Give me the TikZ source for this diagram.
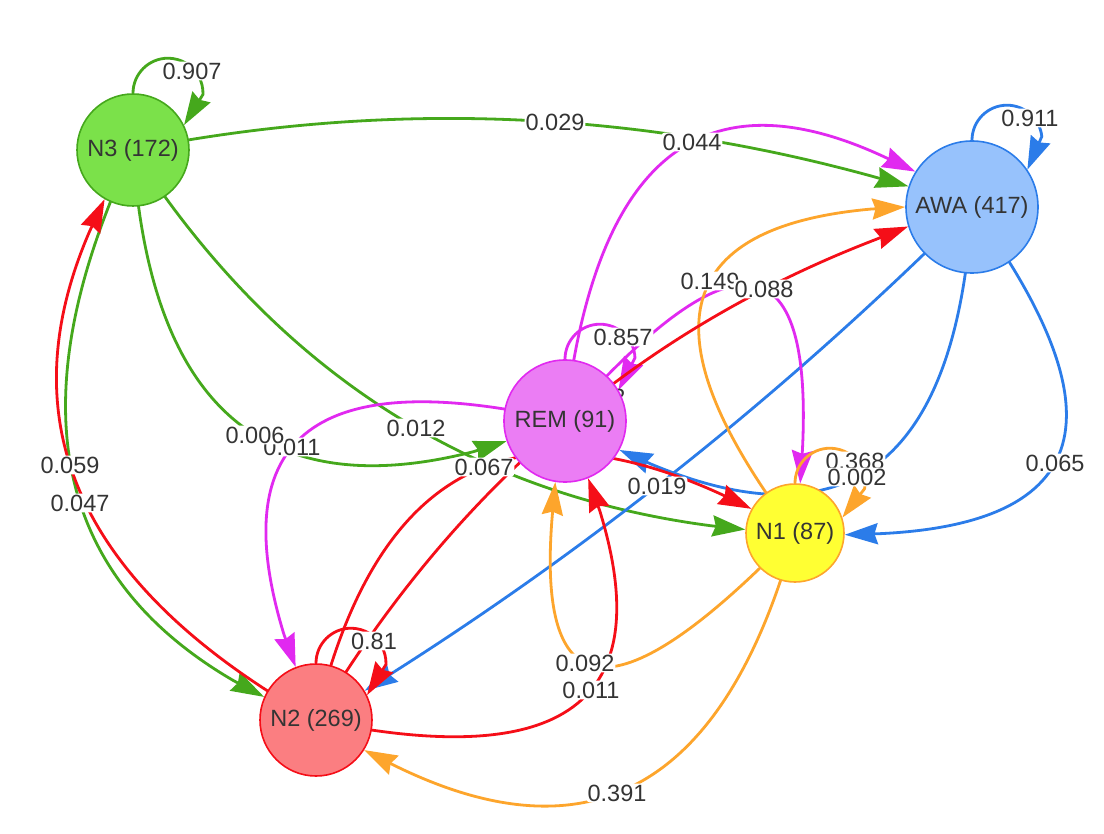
\documentclass[tikz,border=0pt]{standalone}
\usepackage{fontspec}
\setmainfont{Liberation Sans}
\usetikzlibrary{arrows.meta}
\pgfdeclarelayer{edgelayer}
\pgfsetlayers{edgelayer,main}
\definecolor{awaF}{HTML}{97C2FC}\definecolor{awaL}{HTML}{2B7CE9}
\definecolor{nOneF}{HTML}{FFFF33}\definecolor{nOneL}{HTML}{FDA52C}
\definecolor{nTwoF}{HTML}{FB7E81}\definecolor{nTwoL}{HTML}{F50E18}
\definecolor{nThrF}{HTML}{7BE14A}\definecolor{nThrL}{HTML}{45A81C}
\definecolor{remF}{HTML}{EB7DF4}\definecolor{remL}{HTML}{E129F0}
\definecolor{txt}{HTML}{343434}
% curve from the centre of #2 (hidden by the node) to the back of the arrow, then the arrow to the border of #6
% #1 colour, #2 source, #3 control 1, #4 control 2, #5 arrow back, #6 target anchor
\newcommand\qedge[6]{\draw[conn,#1] (#2.center) .. controls (#3) and (#4) .. (#5) -- (#6);}
\newcommand\selfloop[4]{\draw[conn,#1] (#2.north) arc[start angle=180, end angle=#3, radius=35] -- (#2.#4);}
\tikzset{
  conn/.style={line width=2.8pt, -{Stealth[length=33pt,width=21pt,inset=3.3pt]}},
  vnode/.style={circle, inner sep=0pt, line width=1.6pt, text=txt, font=\fontsize{23.5pt}{28pt}\selectfont},
  lbl/.style={inner sep=1pt, fill=white, rounded corners=3pt, text=txt, font=\fontsize{23.5pt}{28pt}\selectfont},
  lblbare/.style={inner sep=0pt, text=txt, font=\fontsize{23.5pt}{28pt}\selectfont}
}
\begin{document}
\begin{tikzpicture}[x=1pt,y=1pt]
\begin{pgfonlayer}{edgelayer}
\fill[white] (0,0) rectangle (1104,-834);
\end{pgfonlayer}
\useasboundingbox (0,0) rectangle (1104,-834);
% nodes
\node[vnode, minimum size=112pt, fill=nThrF, draw=nThrL] (N3) at (133,-150) {N3 (172)};
\node[vnode, minimum size=132pt, fill=awaF, draw=awaL] (AWA) at (972,-207) {AWA (417)};
\node[vnode, minimum size=122pt, fill=remF, draw=remL] (REM) at (565,-421) {REM (91)};
\node[vnode, minimum size=98pt, fill=nOneF, draw=nOneL] (N1) at (795,-533) {N1 (87)};
\node[vnode, minimum size=112pt, fill=nTwoF, draw=nTwoL] (N2) at (316,-720) {N2 (269)};
\begin{pgfonlayer}{edgelayer}
% N3 edges
\selfloop{nThrL}{N3}{-2.0}{26.0}
\qedge{nThrL}{N3}{382.9,-100.3}{630.1,-109.3}{874.8,-177}{AWA.162.2}
\qedge{nThrL}{N3}{149.4,-404.9}{262.9,-505.4}{473.4,-451.7}{REM.199.9}
\qedge{nThrL}{N3}{273.8,-368.4}{466.3,-493.6}{710.5,-525.7}{N1.176.1}
\qedge{nThrL}{N3}{17.1,-397.1}{50.5,-573.9}{233.3,-680.5}{N2.156.2}
% AWA edges
\selfloop{awaL}{AWA}{6.1}{34.1}
\qedge{awaL}{AWA}{793.1,-385.6}{600.5,-540.5}{394.2,-671.8}{N2.31.4}
\qedge{awaL}{AWA}{956.5,-461}{849.6,-546.7}{651.3,-464.2}{REM.332.1}
\qedge{awaL}{AWA}{1123.5,-414.8}{1092.7,-523.7}{879.5,-533.7}{N1.358.4}
% REM edges
\selfloop{remL}{REM}{2.3}{30.3}
\qedge{remL}{REM}{594.3,-159.7}{700.5,-71.6}{883.9,-156.7}{AWA.148.7}
\qedge{remL}{REM}{733.4,-230.6}{812.6,-239.9}{802.5,-448.9}{N1.84.0}
\qedge{remL}{REM}{316.7,-363.6}{223,-434.7}{283.9,-634.3}{N2.111.8}
% N1 edges
\selfloop{nOneL}{N1}{-9.1}{18.9}
\qedge{nOneL}{N1}{645,-335.2}{670.2,-227.2}{870.6,-209.1}{AWA.180}
\qedge{nOneL}{N1}{617.1,-717.3}{536.2,-711.8}{552.2,-516.4}{REM.261.4}
\qedge{nOneL}{N1}{726.1,-785}{592.9,-862.6}{395.3,-765.9}{N2.328.5}
% N2 edges
\qedge{nTwoL}{N2}{80.9,-587.9}{5.5,-424.9}{89.8,-230.9}{N3.240.2}
\qedge{nTwoL}{N2}{564.1,-772.2}{658.7,-702.5}{599.8,-510.9}{REM.292.5}
\qedge{nTwoL}{N2}{373.8,-473}{508.5,-397.6}{720,-493.7}{N1.151.1}
\qedge{nTwoL}{N2}{452.6,-490.6}{639.2,-330.4}{875.7,-239.5}{AWA.197.8}
\selfloop{nTwoL}{N2}{-2.0}{26.0}
% labels
\node[lbl] (l01) at (192,-71) {0.907};
\node[lbl] (l02) at (555,-122) {0.029};
\node[lbl] (l03) at (692,-142) {0.044};
\node[lbl] (l04) at (1030,-118) {0.911};
\node[lbl] (l05) at (710,-281) {0.149};
\node[lbl] (l06) at (764,-289) {0.088};
\node[lbl] (l07) at (623,-337) {0.857};
\node[lblbare] (l08) at (596,-397) {0.052};
\node[lbl] (l09) at (292,-447) {0.011};
\node[lbl] (l10) at (255,-435) {0.006};
\node[lbl] (l11) at (416,-428) {0.012};
\node[lbl] (l12) at (484,-467) {0.067};
\node[lbl] (l13) at (70,-465) {0.059};
\node[lbl] (l14) at (80,-503) {0.047};
\node[lbl] (l15) at (657,-486) {0.019};
\node[lbl] (l16) at (855,-461) {0.368};
\node[lbl] (l17) at (857,-477) {0.002};
\node[lbl] (l18) at (1055,-463) {0.065};
\node[lbl] (l19) at (374,-641) {0.81};
\node[lbl] (l20) at (585,-663) {0.092};
\node[lbl] (l21) at (591,-690) {0.011};
\node[lbl] (l22) at (617,-793) {0.391};
\end{pgfonlayer}
\end{tikzpicture}
\end{document}
